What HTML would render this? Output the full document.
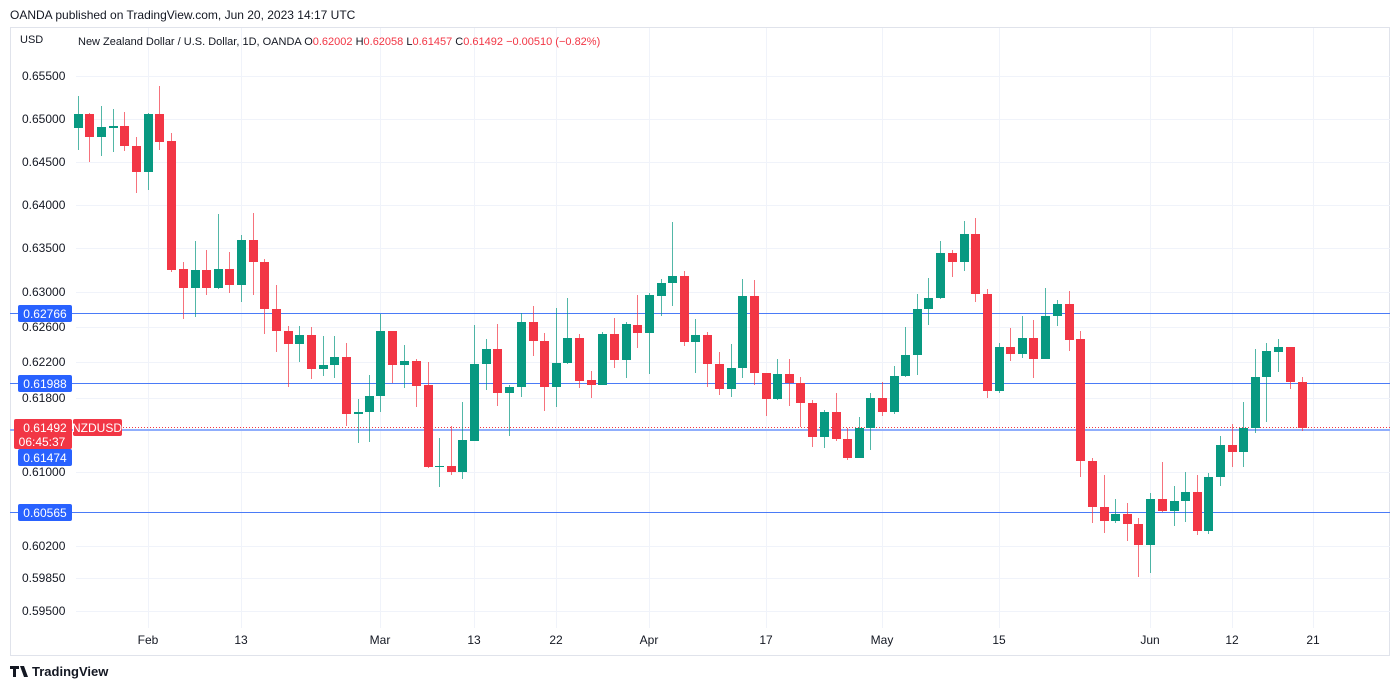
<!DOCTYPE html>
<html><head><meta charset="utf-8"><style>
body{margin:0;width:1400px;height:688px;background:#fff;font-family:"Liberation Sans",sans-serif;overflow:hidden}
svg{position:absolute;left:0;top:0}
</style></head><body>
<svg id="s" width="1400" height="688" xmlns="http://www.w3.org/2000/svg" font-family="Liberation Sans, sans-serif">
<text x="10" y="19" font-size="12" fill="#131722">OANDA published on TradingView.com, Jun 20, 2023 14:17 UTC</text>
<rect x="10.5" y="27.5" width="1379" height="628" fill="none" stroke="#e0e3eb"/>
<g id="grid" stroke="#f0f3fa" stroke-width="1"></g>
<text x="20" y="43" font-size="11" fill="#131722">USD</text>
<text x="78" y="45" font-size="11" fill="#131722">New Zealand Dollar / U.S. Dollar, 1D, OANDA  O<tspan fill="#f23645">0.62002</tspan>  H<tspan fill="#f23645">0.62058</tspan>  L<tspan fill="#f23645">0.61457</tspan>  C<tspan fill="#f23645">0.61492</tspan>  <tspan fill="#f23645">−0.00510 (−0.82%)</tspan></text>
<g id="ylab" font-size="12" fill="#131722"></g>
<g id="xlab" font-size="12" fill="#131722" text-anchor="middle"></g>
<line x1="10" x2="1390" y1="313.5" y2="313.5" stroke="#4a7bf7" stroke-width="1"/>
<line x1="10" x2="1390" y1="383.5" y2="383.5" stroke="#4a7bf7" stroke-width="1"/>
<line x1="10" x2="1390" y1="512.5" y2="512.5" stroke="#4a7bf7" stroke-width="1"/>
<line x1="10" x2="1390" y1="430" y2="430" stroke="#90aefc" stroke-width="2"/>
<line x1="120" x2="1390" y1="427.5" y2="427.5" stroke="#f23645" stroke-width="1" stroke-dasharray="1,2"/>
<g id="c"></g>
<rect x="18" y="305" width="54" height="17" rx="2" fill="#2962ff"/><text x="45" y="318" font-size="12" fill="#fff" text-anchor="middle">0.62766</text>
<rect x="18" y="375" width="54" height="17" rx="2" fill="#2962ff"/><text x="45" y="388" font-size="12" fill="#fff" text-anchor="middle">0.61988</text>
<rect x="14" y="419" width="58" height="30" rx="2" fill="#f23645"/><text x="45" y="432" font-size="12" fill="#fff" text-anchor="middle">0.61492</text><text x="42" y="446" font-size="12" fill="#fff" text-anchor="middle">06:45:37</text>
<rect x="73" y="419" width="49" height="17" rx="2" fill="#f23645"/><text x="97" y="432" font-size="12" fill="#fff" text-anchor="middle">NZDUSD</text>
<rect x="18" y="449" width="54" height="17" rx="2" fill="#2962ff"/><text x="45" y="462" font-size="12" fill="#fff" text-anchor="middle">0.61474</text>
<rect x="18" y="504" width="54" height="17" rx="2" fill="#2962ff"/><text x="45" y="517" font-size="12" fill="#fff" text-anchor="middle">0.60565</text>
<path d="M10 666h9v3h-3v8h-3v-8h-3z M20 666h4l4 11h-4z" fill="#131722"/>
<text x="32" y="676" font-size="13" font-weight="bold" fill="#131722">TradingView</text>
</svg>
<script>
var NS="http://www.w3.org/2000/svg";
function el(p,t,a,tx){var e=document.createElementNS(NS,t);for(var k in a)e.setAttribute(k,a[k]);if(tx)e.textContent=tx;document.getElementById(p).appendChild(e);}
var ys=[[76,"0.65500"],[119,"0.65000"],[162,"0.64500"],[205,"0.64000"],[248,"0.63500"],[292,"0.63000"],[327,"0.62600"],[362,"0.62200"],[398,"0.61800"],[472,"0.61000"],[546,"0.60200"],[578,"0.59850"],[611,"0.59500"]];
ys.forEach(function(y){el("grid","line",{x1:76,x2:1390,y1:y[0]+.5,y2:y[0]+.5});el("ylab","text",{x:22,y:y[0]+4},y[1]);});
var xs=[[148,"Feb"],[241,"13"],[380,"Mar"],[474,"13"],[556,"22"],[649,"Apr"],[766,"17"],[882,"May"],[999,"15"],[1150,"Jun"],[1232,"12"],[1313,"21"]];
xs.forEach(function(x){el("grid","line",{x1:x[0]+.5,x2:x[0]+.5,y1:28,y2:628});el("xlab","text",{x:x[0],y:644},x[1]);});
var G="#089981",R="#f23645";
var d=[[78,114,128,96,150,1],[89,114,137,113,162,0],[101,127,137,106,156,1],[113,126,128,109,152,1],[124,126,146,112,151,0],[136,146,172,137,193,0],[148,114,172,113,190,1],[159,114,142,86,150,0],[171,141,270,133,272,0],[183,269,288,262,319,0],[195,270,288,241,317,1],[206,270,288,250,295,0],[218,269,288,214,289,1],[229,269,285,252,293,0],[241,240,285,235,302,1],[253,240,262,213,295,0],[264,262,309,259,334,0],[276,309,331,285,352,0],[288,331,344,326,387,0],[299,335,344,326,362,1],[311,335,369,327,379,0],[323,365,369,336,376,1],[334,357,365,336,378,1],[346,357,414,343,426,0],[358,412,414,399,443,1],[369,396,412,375,442,1],[380,331,396,314,412,1],[392,331,365,331,383,0],[404,361,365,345,388,1],[416,361,386,359,407,0],[428,385,467,362,468,0],[439,466,467,438,487,1],[451,466,472,426,475,0],[462,440,472,402,479,1],[474,364,441,325,441,1],[486,349,364,339,390,1],[497,349,393,324,406,0],[509,387,393,385,436,1],[521,322,387,313,397,1],[533,322,341,306,356,0],[544,341,387,333,411,0],[556,363,387,308,407,1],[567,338,363,298,364,1],[579,338,381,334,388,0],[591,380,385,371,398,0],[602,334,385,332,385,1],[614,334,360,318,368,0],[626,324,360,322,378,1],[637,325,333,295,348,0],[649,295,333,293,374,1],[661,283,296,279,316,1],[672,276,283,222,306,1],[684,276,342,271,346,0],[695,335,342,319,373,1],[707,335,364,332,387,0],[719,364,389,352,395,0],[731,368,389,344,397,1],[742,296,368,279,378,1],[754,296,373,280,385,0],[766,373,399,373,416,0],[777,374,399,359,400,1],[789,374,383,359,406,0],[800,383,403,377,427,0],[812,403,437,400,447,0],[824,412,437,410,448,1],[836,412,439,393,441,0],[847,439,458,428,460,0],[859,428,458,417,458,1],[870,398,428,393,450,1],[882,398,412,382,416,0],[894,376,412,366,414,1],[905,355,376,327,377,1],[917,309,355,294,375,1],[928,298,309,278,325,1],[940,253,298,241,299,1],[952,253,262,250,277,0],[964,234,262,221,271,1],[975,234,294,218,302,0],[987,294,391,289,398,0],[999,347,391,343,393,1],[1010,347,354,328,361,0],[1022,338,354,316,358,1],[1033,338,359,320,378,0],[1045,316,359,288,359,1],[1057,304,316,300,326,1],[1069,304,340,291,351,0],[1080,339,461,331,477,0],[1092,461,507,458,523,0],[1104,507,521,475,533,0],[1115,514,521,499,523,1],[1127,514,524,503,541,0],[1138,524,545,518,577,0],[1150,499,545,493,573,1],[1162,499,511,462,512,0],[1174,501,511,486,526,1],[1185,492,501,472,522,1],[1197,492,531,475,535,0],[1208,477,531,473,534,1],[1220,445,477,436,486,1],[1232,445,452,424,467,0],[1243,428,452,402,467,1],[1255,377,428,349,433,1],[1266,351,377,343,422,1],[1278,347,352,339,372,1],[1290,347,382,347,389,0],[1302,382,428,377,431,0]];
d.forEach(function(c){var col=c[5]?G:R;el("c","line",{x1:c[0]+.5,x2:c[0]+.5,y1:c[3],y2:c[4],stroke:col,"stroke-width":1,"stroke-opacity":.7});el("c","rect",{x:c[0]-4,y:c[1],width:9,height:Math.max(1,c[2]-c[1]),fill:col});});
</script>
</body></html>
